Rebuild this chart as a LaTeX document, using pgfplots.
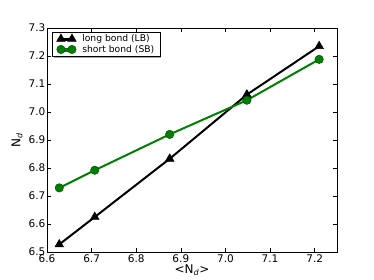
\documentclass[border=0pt]{standalone}
\usepackage{fontspec}
\setmainfont{DejaVu Sans}
\usepackage{pgfplots}
\pgfplotsset{compat=1.18}
\usetikzlibrary{shadows}
\definecolor{mplgreen}{rgb}{0,0.5,0}
\begin{document}
\begin{tikzpicture}[x=1pt,y=1pt]
\path (0,0) rectangle (374,280);
\begin{axis}[
  at={(47pt,28pt)}, anchor=south west,
  scale only axis, width=290pt, height=224pt,
  xmin=6.6, xmax=7.25, ymin=6.5, ymax=7.3,
  xtick={6.6,6.7,6.8,6.9,7.0,7.1,7.2},
  ytick={6.5,6.6,6.7,6.8,6.9,7.0,7.1,7.2,7.3},
  tick align=inside, major tick length=4pt,
  tick style={black, line width=0.5pt},
  axis line style={black, line width=0.6pt},
  ticklabel style={font=\fontsize{10.5}{12}\selectfont},
  xticklabel style={inner sep=1pt, yshift=-1.2pt},
  yticklabel style={inner sep=1.5pt},
  /pgf/number format/.cd, fixed, fixed zerofill, precision=1, assume math mode=true,
  /pgfplots/.cd,
  xlabel={\textless N\textsubscript{\textit{d}}\textgreater},
  ylabel={N\textsubscript{\textit{d}}},
  label style={font=\fontsize{12}{14}\selectfont},
  xlabel style={at={(axis description cs:0.5,-0.08)}, anchor=center},
  ylabel style={at={(axis description cs:-0.103,0.5)}, anchor=center},
  legend cell align=left,
  legend style={at={(0.017,0.982)}, anchor=north west, draw=black, fill=white,
    font=\fontsize{9.2}{10.7}\selectfont, inner xsep=4.5pt, inner ysep=1.5pt,
    nodes={inner sep=1pt}, row sep=0pt, column sep=5pt,
    drop shadow={shadow xshift=1.5pt, shadow yshift=-1.5pt, fill=gray!70, opacity=1}},
  legend image code/.code={\draw[#1] plot coordinates {(0pt,0pt) (11pt,0pt)};},
]
\addplot[black, line width=2pt, mark=triangle*, mark size=5pt, mark options={solid, line width=0.5pt}]
 coordinates {(6.6275,6.527) (6.707,6.625) (6.875,6.833) (7.048,7.062) (7.210,7.235)};
\addlegendentry{long bond (LB)}
\addplot[mplgreen, line width=2pt, mark=*, mark size=4.2pt, mark options={solid, line width=0.5pt, draw=mplgreen!60!black, fill=mplgreen}]
 coordinates {(6.6275,6.729) (6.707,6.792) (6.875,6.920) (7.048,7.042) (7.210,7.188)};
\addlegendentry{short bond (SB)}
\end{axis}
\end{tikzpicture}
\end{document}
